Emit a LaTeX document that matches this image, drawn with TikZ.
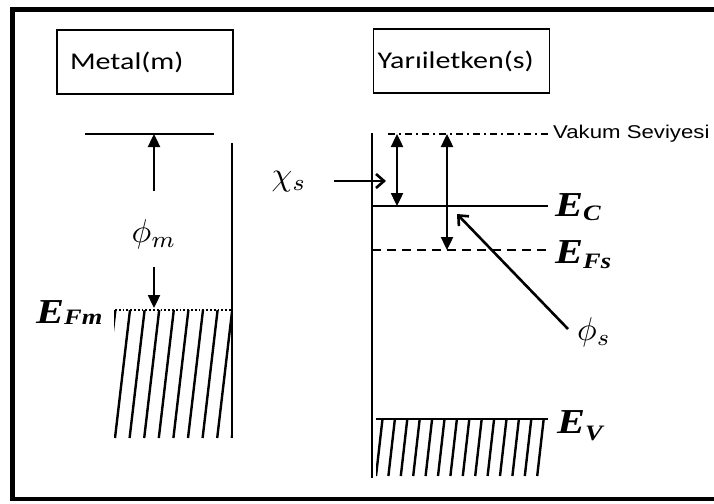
\documentclass[tikz,border=0pt]{standalone}
\usepackage{graphicx}
\usepackage{fontspec}
\setmainfont{Liberation Serif}
\newfontfamily\boxfont[FakeStretch=1.25]{Carlito}
\newfontfamily\vakfont[FakeStretch=1.2]{Liberation Sans}
\newfontfamily\efont[FakeStretch=1.2]{Liberation Serif}
\usetikzlibrary{arrows.meta,positioning}
\newcommand{\elev}[2][4pt]{{\efont\bfseries\itshape\fontsize{35}{38}\selectfont E\raisebox{-#1}{\fontsize{22}{24}\selectfont #2}}}
\newcommand{\greek}[1]{\scalebox{3.3}{$#1$}}

\begin{document}
\begin{tikzpicture}[x=1pt, y=-1pt,
  box/.style={draw, line width=1.8pt, minimum height=64pt, align=left, font=\boxfont\fontsize{24}{27}\selectfont},
  lvl/.style={line width=2.4pt}, hatch/.style={line width=2.4pt},
  >={Triangle[length=13pt,width=12pt]},
  barb/.style={-{Straight Barb[length=8pt,width=14pt]}, line width=2.6pt}]
\useasboundingbox (0,0) rectangle (714,503);
\draw[line width=4.6pt] (714,9.5) -- (12.5,9.5) -- (12.5,499) -- (714,499);

% metal side
\node[box, inner xsep=13pt, text width=150pt] (metal) at (145,62) {Metal(m)};
\draw[lvl, line width=2.6pt] (85,134) -- (214,134);
\draw[lvl, line width=2.8pt] (232,143) -- (232,438);
\coordinate (vacm) at (154,134); \coordinate (upm) at (154,191);
\coordinate (dnm) at (154,267); \coordinate (efmtop) at (154,308);
\node (phim) at (154,234) {\greek{\phi_m}};
\draw[->, line width=2.4pt] (upm) -- (vacm);
\draw[->, line width=2.4pt] (dnm) -- (efmtop);
\draw[line width=1.8pt, dotted] (115,310) -- (232,310);
\begin{scope}
\clip (114,310) rectangle (232,438);
\foreach \i in {-1,...,8} \draw[hatch] ({115+14.6*\i},438) -- ++(15,-128);
\end{scope}
\node[anchor=base west, inner sep=0] (efm) at (36,323) {\elev[1pt]{Fm}};

% semiconductor side
\node[box, inner xsep=4pt, text width=168pt] (semi) at (461.5,61) {Yarıiletken(s)};
\draw[lvl, line width=2.8pt] (372,133) -- (372,478);
\draw[line width=1.8pt, dash pattern=on 7pt off 4pt on 2pt off 4pt] (388,134) -- (548,134);
\node[anchor=base west, inner sep=0, font=\vakfont\fontsize{18.5}{20}\selectfont] (vak) at (553,138) {Vakum Seviyesi};
\draw[lvl] (372,206) -- (548,206);
\draw[lvl, dash pattern=on 9pt off 6pt] (372,250) -- (548,250);
\draw[lvl] (376,419) -- (548,419);
\begin{scope}
\clip (376,419) rectangle (548,476);
\foreach \i in {-1,...,14} \draw[hatch] ({376+12.4*\i},476) -- ++(6.5,-57);
\end{scope}
\coordinate (chitop) at (397,134); \coordinate (chibot) at (397,206);
\coordinate (phitop) at (447,134); \coordinate (phibot) at (447,250);
\draw[<->, line width=2.4pt] (chitop) -- (chibot);
\draw[<->, line width=2.4pt] (phitop) -- (phibot);
\node (chis) at (289,182) {\greek{\chi_s}};
\coordinate (chiin) at (334,181); \coordinate (chiend) at (386,181);
\draw[barb] (chiin) -- (chiend);
\node (phis) at (594,332) {\greek{\phi_s}};
\coordinate (phiin) at (568,329); \coordinate (phiend) at (457,214);
\draw[barb] (phiin) -- (phiend);
\node[anchor=base west, inner sep=0] (ec) at (555,216) {\elev{C}};
\node[anchor=base west, inner sep=0] (efs) at (555,263) {\elev[5pt]{Fs}};
\node[anchor=base west, inner sep=0] (ev) at (557,433) {\elev[7pt]{V}};
\end{tikzpicture}
\end{document}
